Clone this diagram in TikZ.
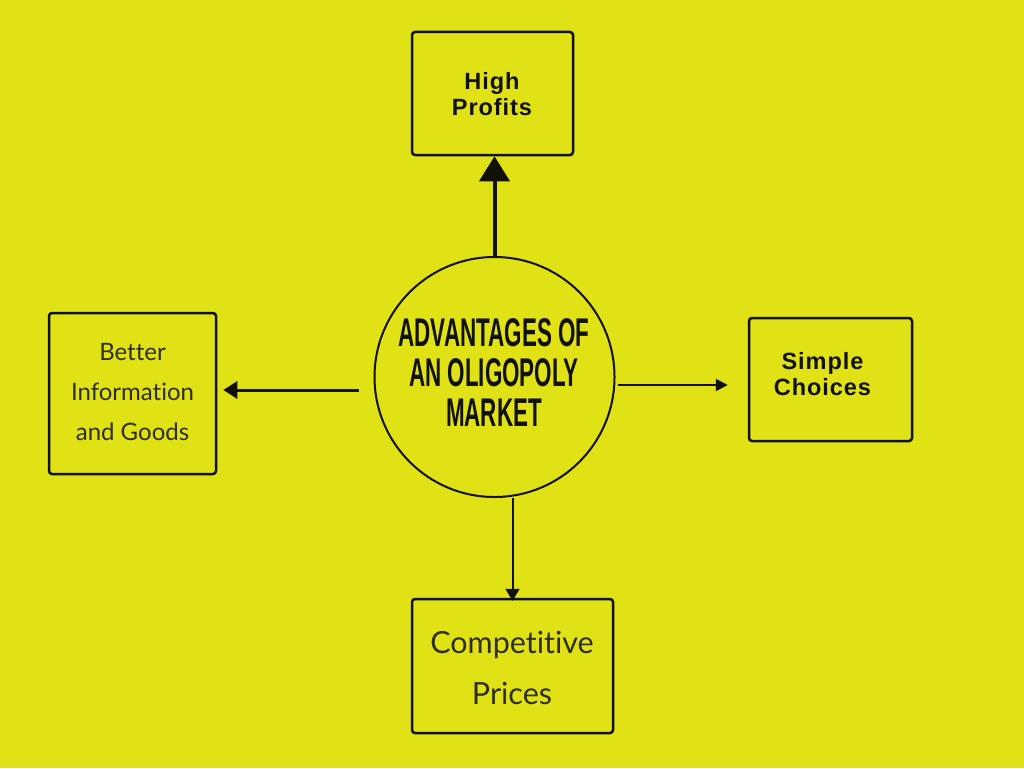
\documentclass[tikz,border=0pt]{standalone}
\usepackage{fontspec}
\setmainfont[Ligatures=CommonOff]{Lato}
\newfontfamily\boldsans[LetterSpace=4]{Liberation Sans}
\newfontfamily\condfont[FakeStretch=0.56]{Liberation Sans}
\usetikzlibrary{arrows.meta}
\definecolor{bg}{HTML}{E1E216}
\definecolor{txt}{HTML}{2E2E16}
\definecolor{ink}{HTML}{111108}
\tikzset{
  box/.style={draw=ink, line width=2.5pt, rounded corners=3pt, inner sep=0pt},
  boldtxt/.style={font=\boldsans\bfseries\fontsize{23.5}{26.5}\selectfont, text=ink, align=center, inner sep=0pt},
  latotxt/.style={text=txt, align=center, inner sep=0pt},
  conn/.style={draw=ink}
}
\begin{document}
\begin{tikzpicture}[x=1pt,y=-1pt]
\fill[bg] (0,0) rectangle (1024,768);
\useasboundingbox (0,0) rectangle (1024,768);

% centre circle
\node[circle, draw=ink, line width=2pt, minimum size=240pt, inner sep=0pt] (c) at (494.5,377) {};
\node[font=\condfont\bfseries\fontsize{40}{40}\selectfont, text=ink, align=center, inner sep=0pt] (ct) at (494,372.5) {ADVANTAGES OF\\AN OLIGOPOLY\\MARKET};

% boxes
\node[box, minimum width=161pt, minimum height=123pt] (hp) at (492.5,93.5) {};
\node[boldtxt] (hpt) at (492,94) {High\\Profits};

\node[box, minimum width=167pt, minimum height=161pt] (bi) at (132.5,393.5) {};
\node[latotxt, font=\fontsize{24}{40}\selectfont] (bit) at (132.5,392) {Better\\Information\\and Goods};

\node[box, minimum width=163pt, minimum height=123pt] (sc) at (830.5,379.5) {};
\node[boldtxt] (sct) at (822.5,374) {Simple\\Choices};

\node[box, minimum width=201pt, minimum height=134pt] (cp) at (512.5,666) {};
\node[latotxt, font=\fontsize{30.5}{51}\selectfont] (cpt) at (512,668) {Competitive\\Prices};

% connectors
\draw[conn, line width=4pt, -{Triangle[width=30pt,length=25pt]}] (c.north) -- (c.north |- hp.south);
\draw[conn, line width=3pt, -{Triangle[width=17pt,length=14pt]}] ([xshift=-15pt,yshift=-13pt]c.west) -- ([xshift=6pt,yshift=3.5pt]bi.east);
\draw[conn, line width=2pt, -{Triangle[width=12pt,length=12pt]}] ([xshift=2pt,yshift=-8pt]c.east) -- ([xshift=-20pt,yshift=-5.5pt]sc.west);
\draw[conn, line width=2pt, -{Triangle[width=14pt,length=12pt]}] (c.south -| cp.north) -- ([yshift=-3pt]cp.north);
\end{tikzpicture}
\end{document}
